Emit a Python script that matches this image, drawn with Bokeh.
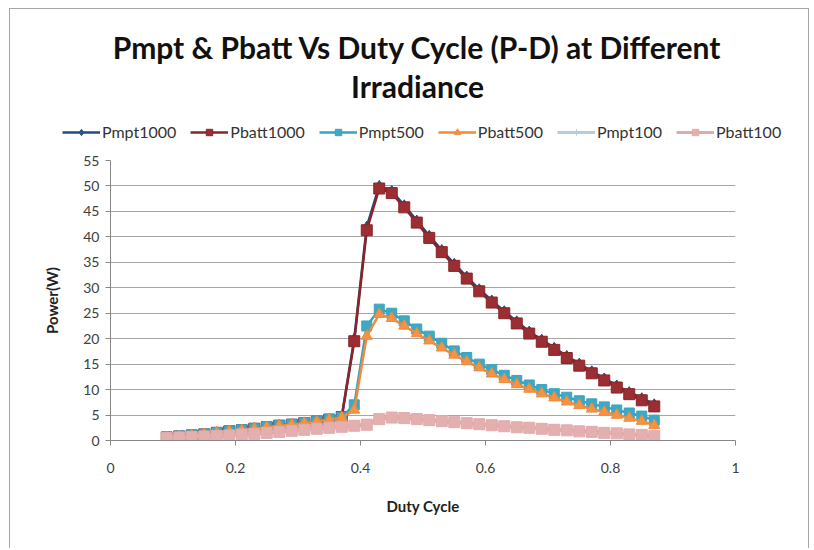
from bokeh.plotting import figure
from bokeh.models import Range1d, Legend, LegendItem, Label, FixedTicker
from bokeh.embed import file_html
from bokeh.resources import INLINE

duty = [0.09, 0.11, 0.13, 0.15, 0.17, 0.19, 0.21, 0.23, 0.25, 0.27, 0.29, 0.31, 0.33, 0.35, 0.37,
        0.39, 0.41, 0.43, 0.45, 0.47, 0.49, 0.51, 0.53, 0.55, 0.57, 0.59, 0.61, 0.63, 0.65, 0.67,
        0.69, 0.71, 0.73, 0.75, 0.77, 0.79, 0.81, 0.83, 0.85, 0.87]

pmpt1000 = [0.7, 0.9, 1.1, 1.3, 1.6, 1.9, 2.1, 2.4, 2.7, 3.0, 3.2, 3.5, 3.8, 4.2, 4.7,
            20.0, 42.0, 50.0, 49.0, 46.2, 43.2, 40.2, 37.4, 34.7, 32.2, 29.7, 27.5, 25.4, 23.4, 21.4,
            19.8, 18.2, 16.6, 15.1, 13.6, 12.2, 10.8, 9.5, 8.3, 7.1]
pbatt1000 = [0.6, 0.8, 1.0, 1.2, 1.5, 1.8, 2.0, 2.3, 2.6, 2.9, 3.1, 3.4, 3.7, 4.1, 4.6,
             19.5, 41.3, 49.5, 48.6, 45.8, 42.8, 39.8, 37.0, 34.3, 31.8, 29.3, 27.1, 25.0, 23.0, 21.0,
             19.4, 17.8, 16.2, 14.7, 13.2, 11.8, 10.4, 9.1, 7.9, 6.7]
pmpt500 = [0.7, 0.9, 1.1, 1.3, 1.6, 1.9, 2.1, 2.4, 2.7, 3.0, 3.2, 3.5, 3.8, 4.2, 4.6,
           7.0, 22.5, 25.8, 25.0, 23.5, 21.9, 20.5, 19.1, 17.6, 16.3, 15.0, 13.9, 12.8, 11.8, 10.9,
           10.0, 9.2, 8.5, 7.8, 7.2, 6.6, 6.0, 5.4, 4.8, 4.0]
pbatt500 = [0.6, 0.8, 1.0, 1.2, 1.5, 1.8, 2.0, 2.3, 2.6, 2.9, 3.1, 3.4, 3.7, 4.1, 4.5,
            6.0, 20.5, 24.8, 24.0, 22.5, 21.0, 19.6, 18.2, 16.8, 15.5, 14.3, 13.1, 12.0, 11.0, 10.1,
            9.2, 8.4, 7.6, 6.9, 6.2, 5.6, 5.0, 4.4, 3.8, 3.0]
pmpt100 = [0.6, 0.7, 0.8, 0.9, 1.0, 1.1, 1.3, 1.4, 1.6, 1.8, 2.0, 2.2, 2.4, 2.6, 2.8,
           3.0, 3.2, 4.3, 4.6, 4.5, 4.3, 4.1, 3.9, 3.7, 3.5, 3.3, 3.1, 2.9, 2.7, 2.6,
           2.4, 2.2, 2.1, 1.9, 1.8, 1.6, 1.5, 1.3, 1.2, 1.0]
pbatt100 = [0.5, 0.6, 0.7, 0.8, 0.9, 1.0, 1.2, 1.3, 1.5, 1.7, 1.9, 2.1, 2.3, 2.5, 2.7,
            2.9, 3.1, 4.2, 4.5, 4.4, 4.2, 4.0, 3.8, 3.6, 3.4, 3.2, 3.0, 2.8, 2.6, 2.5,
            2.3, 2.1, 2.0, 1.8, 1.7, 1.5, 1.4, 1.2, 1.1, 0.9]

series_names = ["Pmpt1000", "Pbatt1000", "Pmpt500", "Pbatt500", "Pmpt100", "Pbatt100"]
series_values = [pmpt1000, pbatt1000, pmpt500, pbatt500, pmpt100, pbatt100]
x_ticks = [0, 0.2, 0.4, 0.6, 0.8, 1.0]
x_tick_labels = ["0", "0.2", "0.4", "0.6", "0.8", "1"]
y_ticks = [0, 5, 10, 15, 20, 25, 30, 35, 40, 45, 50, 55]
title_line1 = "Pmpt & Pbatt Vs Duty Cycle (P-D) at Different"
title_line2 = "Irradiance"

styles = [
    dict(line="#254A7C", fill="#2C5A92", marker="diamond", size=11, lw=2.5),
    dict(line="#8A2428", fill="#9A2E32", marker="square", size=11, lw=2.5),
    dict(line="#3AA3BF", fill="#3FA9C4", marker="square", size=10, lw=2.5),
    dict(line="#F08A3C", fill="#F29443", marker="triangle", size=11, lw=2.5),
    dict(line="#B5CBE4", fill="#B5CBE4", marker="cross", size=10, lw=3),
    dict(line="#E2ABAB", fill="#E4AFAF", marker="square", size=11, lw=4),
]

FONT = "Lato"
BORDER = "1px solid #a6a6a6"

# ---- header figure (title + legend); its ranges are page pixels ----
top = figure(width=800, height=132, output_backend="svg", toolbar_location=None,
             x_range=Range1d(10, 810), y_range=Range1d(141, 9),
             x_axis_type=None, y_axis_type=None,
             min_border_left=0, min_border_right=0, min_border_top=0, min_border_bottom=0,
             styles={"margin": "8px 0px 0px 9px", "border-left": BORDER,
                     "border-top": BORDER, "border-right": BORDER})
top.outline_line_color = None
top.background_fill_color = "white"
top.border_fill_color = "white"

top.add_layout(Label(x=417, y=46, text=title_line1, text_align="center",
                     text_baseline="middle", text_font=FONT, text_font_size="30px",
                     text_font_style="bold", text_color="#111111"))
top.add_layout(Label(x=417, y=85, text=title_line2, text_align="center",
                     text_baseline="middle", text_font=FONT, text_font_size="30px",
                     text_font_style="bold", text_color="#111111"))

# ---- main figure ----
p = figure(width=800, height=408, output_backend="svg", toolbar_location=None,
           x_range=Range1d(0, 1), y_range=Range1d(0, 55),
           min_border_left=100, min_border_right=75, min_border_top=20, min_border_bottom=108,
           styles={"margin": "0px 0px 0px 9px", "border-left": BORDER, "border-right": BORDER})
p.outline_line_color = None
p.background_fill_color = "white"
p.border_fill_color = "white"

items = []
for name, vals, st in zip(series_names, series_values, styles):
    p.line(duty, vals, line_color=st["line"], line_width=st["lw"])
    p.scatter(duty, vals, marker=st["marker"], size=st["size"],
              fill_color=st["fill"], line_color=st["line"], line_width=1)
    # same series in the header, outside its visible range: only used for legend swatches
    lr = top.line(duty, vals, line_color=st["line"], line_width=min(st["lw"], 3))
    sr = top.scatter(duty, vals, marker=st["marker"], size=st["size"],
                     fill_color=st["fill"], line_color=st["line"], line_width=1)
    items.append(LegendItem(label=name, renderers=[lr, sr]))

legend = Legend(items=items, orientation="horizontal", location=(52, 0),
                label_text_font=FONT, label_text_font_size="16px", label_text_color="#333333",
                glyph_width=38, glyph_height=16, label_height=16, label_standoff=2,
                spacing=14, padding=0, margin=0, border_line_color=None,
                background_fill_alpha=0)
top.add_layout(legend, "center")

p.xaxis.ticker = FixedTicker(ticks=x_ticks)
p.xaxis.major_label_overrides = {t: l for t, l in zip(x_ticks, x_tick_labels)}
p.yaxis.ticker = FixedTicker(ticks=y_ticks)

for ax in (p.xaxis[0], p.yaxis[0]):
    ax.axis_line_color = "#868686"
    ax.major_tick_line_color = "#868686"
    ax.major_tick_in = 0
    ax.major_tick_out = 5
    ax.minor_tick_line_color = None
    ax.major_label_text_font = FONT
    ax.major_label_text_font_size = "14px"
    ax.major_label_text_color = "#404040"
    ax.axis_label_text_font = FONT
    ax.axis_label_text_font_size = "15px"
    ax.axis_label_text_font_style = "bold"
    ax.axis_label_text_color = "#222222"

p.xaxis.axis_label = "Duty Cycle"
p.yaxis.axis_label = "Power(W)"
p.xaxis.major_label_standoff = 17
p.xaxis.axis_label_standoff = 21
p.yaxis.major_label_standoff = 6
p.yaxis.axis_label_standoff = 19

p.xgrid.visible = False
p.ygrid.grid_line_color = "#a6a6a6"
p.ygrid.grid_line_width = 1

open("out.html", "w").write(file_html([top, p], INLINE))
